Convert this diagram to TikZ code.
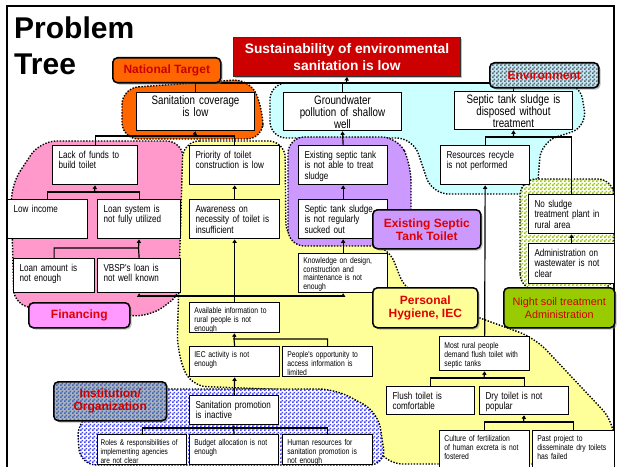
\documentclass[tikz,border=0pt]{standalone}
\usepackage{fontspec}
\setmainfont{Liberation Sans}
\newfontfamily\narrowsans[FakeStretch=0.8]{Liberation Sans}
\usetikzlibrary{arrows.meta,patterns,shadows}

\definecolor{labred}{HTML}{E00000}
\definecolor{titlered}{HTML}{CC0000}
\definecolor{natorange}{HTML}{FF6600}
\definecolor{skyfill}{HTML}{CCFFFF}
\definecolor{pinkfill}{HTML}{FF99CC}
\definecolor{finpink}{HTML}{FF99FF}
\definecolor{lemon}{HTML}{FFFF99}
\definecolor{lilac}{HTML}{CC99FF}
\definecolor{nightgreen}{HTML}{99CC00}
\definecolor{instblue}{HTML}{3366CC}

\newcommand{\treetitlefont}{\bfseries\fontsize{25.5}{30}\selectfont}
\newcommand{\rootfont}{\bfseries\fontsize{11.7}{14.2}\selectfont}
\newcommand{\toplevelfont}{\narrowsans\fontsize{10.4}{10}\selectfont}
\newcommand{\causefont}{\narrowsans\fontsize{8.6}{8.8}\selectfont}
\newcommand{\smallcausefont}{\narrowsans\fontsize{7.2}{7.6}\selectfont}
\newcommand{\tagfont}{\bfseries\fontsize{10.2}{11}\selectfont}

% fine checker for the hatched areas
\pgfdeclarepatternformonly{fine checker}{\pgfpointorigin}{\pgfqpoint{3.4pt}{3.4pt}}{\pgfqpoint{3.4pt}{3.4pt}}{%
  \pgfpathrectangle{\pgfpointorigin}{\pgfqpoint{1.7pt}{1.7pt}}%
  \pgfpathrectangle{\pgfqpoint{1.7pt}{1.7pt}}{\pgfqpoint{1.7pt}{1.7pt}}%
  \pgfusepath{fill}}

\tikzset{
  arr/.style={line width=1pt, -{Triangle[length=3pt,width=3.6pt]}},
  link/.style={line width=1pt},
  dotline/.style={draw, line width=1.2pt, dash pattern=on 1.2pt off 1.3pt, rounded corners=14pt},
  mainbox/.style={draw=black!80, line width=0.8pt, fill=titlered, text=white, anchor=north west,
    minimum width=193pt, minimum height=33.15pt, inner sep=0pt, align=center, font=\rootfont,
    drop shadow={shadow xshift=1.5pt, shadow yshift=-1.5pt, opacity=0.5}},
  topbox/.style={draw, line width=1.1pt, fill=white, anchor=north west, inner xsep=5pt, inner ysep=0pt,
    text width=90pt, align=center, text height=10.3pt, text depth=22pt, font=\toplevelfont},
  cause/.style={draw, line width=1.1pt, fill=white, anchor=north west, inner xsep=5pt, inner ysep=0pt,
    text width=#1, align=left, text height=10.8pt, text depth=22.4pt, font=\causefont},
  cause/.default=65.65pt,
  smallcause/.style={draw, line width=1.1pt, fill=white, anchor=north west, inner xsep=4pt, inner ysep=0pt,
    text width=#1, align=left, text height=9pt, text depth=16.5pt, font=\smallcausefont},
  smallcause/.default=68.5pt,
  tag/.style={draw, line width=1.3pt, rounded corners=4pt, anchor=north west, inner sep=0pt,
    align=center, font=\tagfont, text=labred,
    drop shadow={shadow xshift=1.5pt, shadow yshift=-1.5pt, opacity=0.5}},
}

\begin{document}
\begin{tikzpicture}[x=0.85pt, y=-0.85pt]
\useasboundingbox (0,0) rectangle (617,466);
\draw[line width=1.4pt] (7,6) rectangle (614,480);

\node[anchor=base west, inner sep=0pt, font=\treetitlefont] (titleA) at (14,39) {Problem};
\node[anchor=base west, inner sep=0pt, font=\treetitlefont] (titleB) at (14,75) {Tree};

% areas
\draw[dotline, fill=natorange] (122,88) -- (250,79) -- (263,110) -- (263,139) -- (122,139) -- cycle;
\draw[dotline, fill=skyfill] (270,83) -- (580,83) -- (587,127) -- (541,142) -- (537,194) -- (432,194) -- (413,138) -- (270,138) -- cycle;
\draw[dotline, fill=pinkfill] (11,185) -- (40,141) -- (183,141) -- (183,292) -- (150,317) -- (14,306) -- cycle;
\draw[dotline, fill=lemon] (183,141) -- (285,141) -- (286,240) -- (388,246) -- (406,292) -- (480,318) -- (535,338) -- (614,422) -- (614,464) -- (386,464) -- (345,392) -- (190,386) -- (177,350) -- cycle;
\draw[dotline, fill=lilac] (288,137) -- (398,137) -- (411,165) -- (411,246) -- (288,246) -- cycle;
\draw[dotline, pattern=fine checker, pattern color=blue!75, preaction={fill=white}] (140,389) -- (335,389) -- (378,412) -- (386,465) -- (80,465) -- (77,420) -- cycle;
\draw[dotline, pattern=fine checker, pattern color=nightgreen, preaction={fill=white}] (520,290) -- (520,179) -- (614,179) -- (614,290) -- cycle;

% problems
\node[mainbox] (main) at (233,37) {Sustainability of environmental\\sanitation is low};
\node[topbox] (sancov) at (136,92) {Sanitation coverage\\is low};
\node[topbox] (ground) at (283,92) {Groundwater\\pollution of shallow\\well};
\node[topbox] (sludge) at (454,91) {Septic tank sludge is\\disposed without\\treatment};

\node[cause=62.25pt] (lack) at (52,145) {Lack of funds to\\build toilet};
\node[cause=58pt] (lowinc) at (7,199) {Low income};
\node[cause=60.55pt] (loansys) at (97,199) {Loan system is\\not fully utilized};
\node[cause=58.85pt, text depth=18.1pt] (loanamt) at (13,258) {Loan amount is\\not enough};
\node[cause=60.55pt, text depth=18.1pt] (vbsp) at (97,258) {VBSP's loan is\\not well known};

\node[cause=66.5pt] (prio) at (189,145) {Priority of toilet\\construction is low};
\node[cause=66.5pt] (aware) at (189,199) {Awareness on\\necessity of toilet is\\insufficient};
\node[smallcause] (avail) at (189,302) {Available information to\\rural people is not\\enough};
\node[smallcause] (iec) at (189,346) {IEC activity is not\\enough};
\node[smallcause] (people) at (282,346) {People's opportunity to\\access information is\\limited};
\node[cause, text depth=13.85pt] (sanprom) at (189,395) {Sanitation promotion\\is inactive};
\node[smallcause=70.65pt, inner xsep=2.5pt, font=\narrowsans\fontsize{6.9}{7.6}\selectfont] (roles) at (97,434) {Roles \& responsibilities of\\implementing agencies\\are not clear};
\node[smallcause=67.65pt] (budget) at (189,434) {Budget allocation is not\\enough};
\node[smallcause] (human) at (282,434) {Human resources for\\sanitation promotion is\\not enough};

\node[cause] (existst) at (298,145) {Existing septic tank\\is not able to treat\\sludge};
\node[cause] (sucked) at (298,199) {Septic tank sludge\\is not regularly\\sucked out};
\node[smallcause=67.65pt, text height=8pt, text depth=25.15pt] (knowledge) at (298,253) {Knowledge on design,\\construction and\\maintenance is not\\enough};

\node[cause] (resrec) at (440,145) {Resources recycle\\is not performed};
\node[cause=63.1pt] (nosludge) at (528,194) {No sludge\\treatment plant in\\rural area};
\node[cause=63.1pt, text depth=23.2pt] (admin) at (528,243) {Administration on\\wastewater is not\\clear};

\node[smallcause, text height=10pt, text depth=18.9pt] (mostrural) at (439,336) {Most rural people\\demand flush toilet with\\septic tanks};
\node[cause=64.8pt, text depth=13pt] (flush) at (386,386) {Flush toilet is\\comfortable};
\node[cause, text depth=13pt] (dry) at (479,386) {Dry toilet is not\\popular};
\node[smallcause, text depth=23.3pt] (culture) at (439,430) {Culture of fertilization\\of human excreta is not\\fostered};
\node[smallcause=61.7pt, text depth=23.3pt] (past) at (532,430) {Past project to\\disseminate dry toilets\\has failed};

% junctions
\coordinate (jtop) at (346.5,83);
\coordinate (jcov) at (194.5,136);
\coordinate (jlack) at (94.5,192);
\coordinate (jloan) at (138.5,248);
\coordinate (jinfo) at (234,296);
\coordinate (javail) at (234,339);
\coordinate (jprom) at (233.5,428);
\coordinate (jsludge) at (513.5,137);
\coordinate (jrural) at (484,378);
\coordinate (jdry) at (523.5,422);

% links
\draw[link] (sancov.north) |- (jtop) -| (sludge.north);
\draw[link] (ground.north) -- (ground.north |- jtop);
\draw[arr] (jtop) -- (main.south);

\draw[link] (lack.north) |- (jcov) -| (prio.north);
\draw[arr] (jcov) -- (sancov.south);
\draw[link] (lowinc.north) |- (jlack) -| (loansys.north);
\draw[arr] (jlack) -- (lack.south);
\draw[link] (loanamt.north) |- (jloan) -- (vbsp.north);
\draw[arr] (jloan) -- (loansys.south);

\draw[arr] (aware.north) -- (prio.south);
\draw[arr] (avail.north) -- (aware.south);
\draw[arr] (jinfo) -| (vbsp.south);
\draw[arr] (jinfo) -| (knowledge.south);
\draw[link] (iec.north) -- (javail) -| (people.north);
\draw[arr] (javail) -- (avail.south);
\draw[arr] (sanprom.north) -- (iec.south);
\draw[link] (roles.north) |- (jprom) -| (human.north);
\draw[link] (budget.north) -- (jprom);
\draw[arr] (jprom) -- (sanprom.south);

\draw[arr] (knowledge.north) -- (sucked.south);
\draw[arr] (sucked.north) -- (existst.south);
\draw[arr] (existst.north) -- (ground.south);

\draw[link] (resrec.north) |- (jsludge) -| (nosludge.north);
\draw[arr] (jsludge) -- (sludge.south);
\draw[arr] (admin.north) -- (nosludge.south);
\draw[arr] (mostrural.north) -- (resrec.south);
\draw[link] (flush.north) |- (jrural) -| (dry.north);
\draw[arr] (jrural) -- (mostrural.south);
\draw[link] (culture.north) |- (jdry) -| (past.north);
\draw[arr] (jdry) -- (dry.south);

% area tags
\node[tag, fill=natorange, text=titlered, minimum width=91.8pt, minimum height=21.25pt] (nattarget) at (112,57) {National Target};
\node[tag, pattern=fine checker, pattern color=black!60, preaction={fill=cyan!25}, minimum width=92.65pt, minimum height=21.25pt] (envtag) at (489,62) {Environment};
\node[tag, fill=lilac, minimum width=91.8pt, minimum height=33.15pt] (septictag) at (372,209) {Existing Septic\\Tank Toilet};
\node[tag, fill=lemon, minimum width=89.25pt, minimum height=34pt] (hygienetag) at (372,287) {Personal\\Hygiene, IEC};
\node[tag, fill=nightgreen, text=titlered, font=\fontsize{9.2}{11}\selectfont, minimum width=94.35pt, minimum height=34pt] (nightsoiltag) at (503,287) {Night soil treatment\\Administration};
\node[tag, fill=finpink, minimum width=85.85pt, minimum height=21.25pt] (fintag) at (28,302) {Financing};
\node[tag, pattern=fine checker, pattern color=instblue, preaction={fill=gray!60}, text=titlered, minimum width=96pt, minimum height=33.15pt] (insttag) at (53,381) {Institution/\\Organization};
\end{tikzpicture}
\end{document}
